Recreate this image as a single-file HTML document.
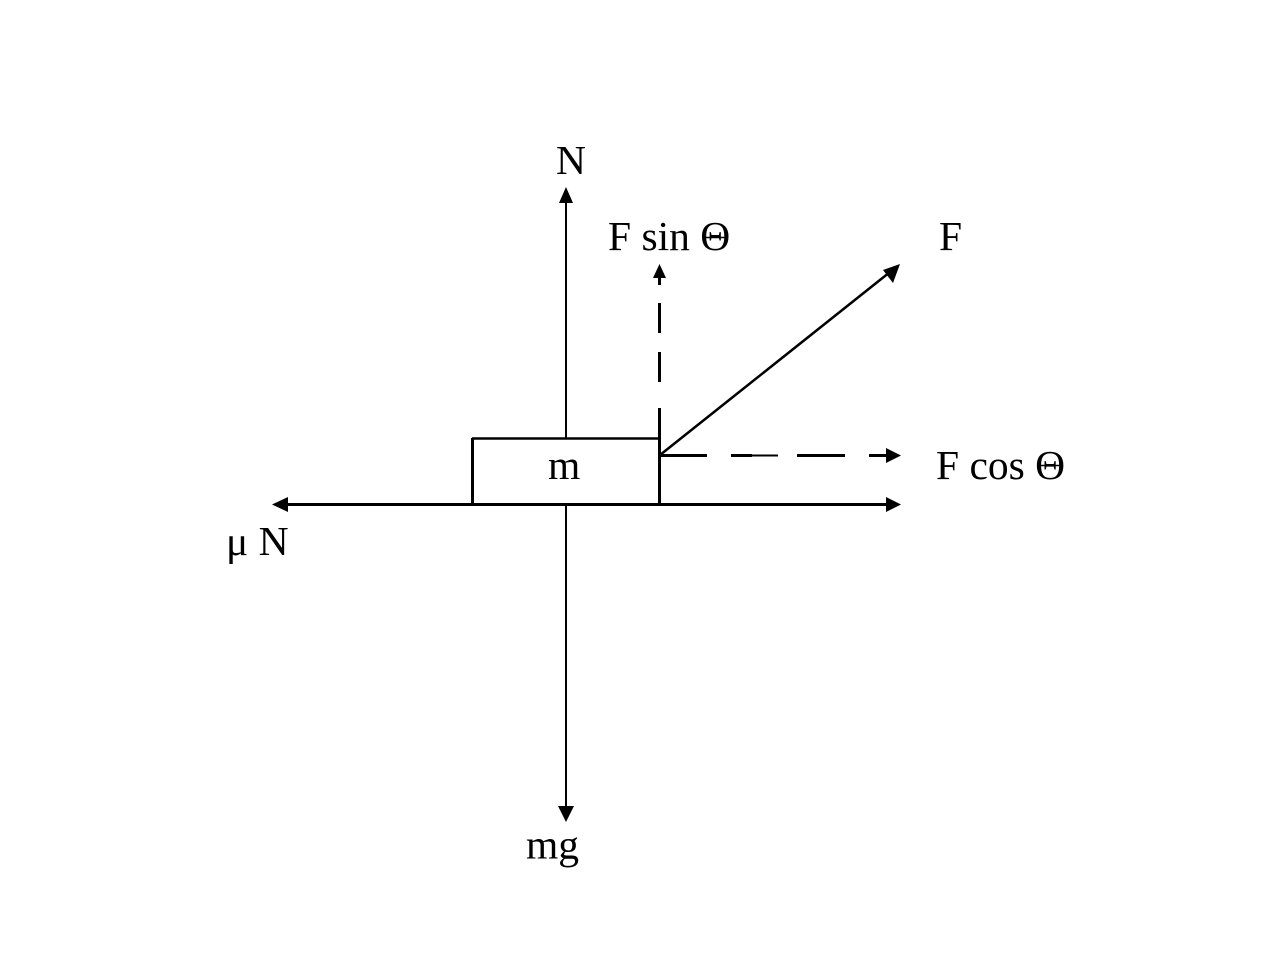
<!DOCTYPE html>
<html><head><meta charset="utf-8"><style>
html,body{margin:0;padding:0;background:#fff}
svg{display:block}
text{font-family:"Liberation Serif",serif;font-size:41.5px;fill:#000}
</style></head><body>
<svg width="1276" height="968" viewBox="0 0 1276 968" xmlns="http://www.w3.org/2000/svg">
<g stroke="#000" fill="none">
<line x1="566" y1="200" x2="566" y2="438" stroke-width="2"/>
<line x1="566" y1="504" x2="566" y2="808" stroke-width="2"/>
<line x1="286" y1="504.500" x2="888" y2="504.500" stroke-width="3"/>
<path d="M472 438.500H659.500" stroke-width="2.500"/>
<line x1="472.500" y1="438" x2="472.500" y2="504" stroke-width="3"/>
<line x1="659.500" y1="408" x2="659.500" y2="504" stroke-width="3"/>
<line x1="659.500" y1="352" x2="659.500" y2="382" stroke-width="3"/>
<line x1="659.500" y1="303" x2="659.500" y2="333" stroke-width="3"/>
<line x1="659.500" y1="276" x2="659.500" y2="285" stroke-width="3"/>
<line x1="660" y1="455.500" x2="707" y2="455.500" stroke-width="3"/>
<line x1="731" y1="455.500" x2="752" y2="455.500" stroke-width="3"/>
<line x1="752" y1="455.500" x2="778" y2="455.500" stroke-width="2"/>
<line x1="797" y1="455.500" x2="845" y2="455.500" stroke-width="3"/>
<line x1="869" y1="455.500" x2="890" y2="455.500" stroke-width="3"/>
<line x1="660" y1="455" x2="890" y2="272" stroke-width="2.500"/>
<line x1="703" y1="237.500" x2="728" y2="237.500" stroke-width="1.500"/>
<line x1="1038" y1="465.500" x2="1063" y2="465.500" stroke-width="1.500"/>
</g>
<g fill="#000">
<polygon points="566,187 559,203 573,203"/>
<polygon points="566,822 558,806 574,806"/>
<polygon points="272,504.500 288,497 288,512"/>
<polygon points="901,504.500 886,497 886,512"/>
<polygon points="901,455.500 886,448 886,463"/>
<polygon points="659.500,264 653,278 666,278"/>
<polygon points="900,264 883,270 893,283"/>
</g>
<text x="556" y="174">N</text>
<text x="608" y="250">F sin Θ</text>
<text x="939" y="250">F</text>
<text x="548" y="479">m</text>
<text x="936" y="479">F cos Θ</text>
<text x="226" y="555">μ N</text>
<text x="526" y="858.500">mg</text>
</svg>
</body></html>
